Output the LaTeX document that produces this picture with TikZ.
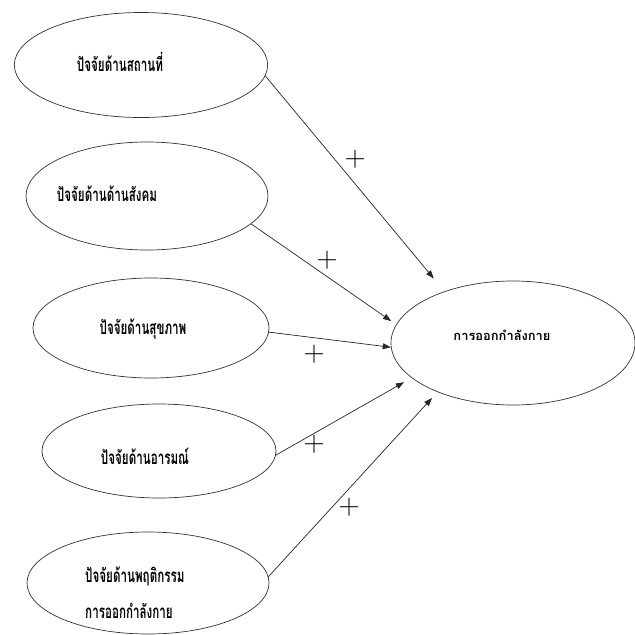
\documentclass[tikz,border=0pt]{standalone}
\usepackage{fontspec}
\newfontfamily\thaifont[Script=Thai]{Loma}
\newfontfamily\thainarrow[Script=Thai, FakeStretch=0.62]{Loma}
\usetikzlibrary{arrows.meta, shapes.geometric}

\begin{document}
\begin{tikzpicture}[x=0.03cm, y=-0.03cm,
		factor/.style={ellipse, draw=black!80, line width=0.6pt, inner sep=0pt},
		factortext/.style={font=\thainarrow\bfseries\fontsize{16}{18}\selectfont, inner sep=0pt},
		goaltext/.style={font=\thaifont\bfseries\fontsize{11}{13}\selectfont, inner sep=0pt},
		plusmark/.style={font=\Huge, inner sep=0pt},
		link/.style={draw=black!85, line width=0.6pt, -{Triangle[length=7pt, width=5pt]}}
	]
		\useasboundingbox (0,0) rectangle (635,635);

		\node[factor, minimum width=7.6cm, minimum height=3.15cm] (e1) at (141,65) {};
		\node[factor, minimum width=7.26cm, minimum height=3.24cm] (e2) at (147,196) {};
		\node[factor, minimum width=7.08cm, minimum height=3.0cm] (e3) at (151,328) {};
		\node[factor, minimum width=7.02cm, minimum height=2.82cm] (e4) at (159,451) {};
		\node[factor, minimum width=7.26cm, minimum height=3.06cm] (e5) at (148,583) {};
		\node[factor, minimum width=7.32cm, minimum height=3.72cm] (tg) at (513,343) {};

		\node[factortext] (t1) at (120,62) {ปัจจัยด้านสถานที่};
		\node[factortext] (t2) at (107,194) {ปัจจัยด้านด้านสังคม};
		\node[factortext] (t3) at (143,329) {ปัจจัยด้านสุขภาพ};
		\node[factortext] (t4) at (145,456) {ปัจจัยด้านอารมณ์};
		\node[factortext, anchor=west] (t5a) at (85,576) {ปัจจัยด้านพฤติกรรม};
		\node[factortext, anchor=west] (t5b) at (85,611) {การออกกำลังกาย};
		\node[goaltext] (tt) at (502,335) {การออกกำลังกาย};

		\draw[link, shorten >=0.5cm] (e1.-5) -- (tg.143.5);
		\draw[link, shorten >=0.18cm] (e2.-15) -- (tg.171.7);
		\draw[link] (e3.-2.5) -- (tg.182);
		\draw[link, shorten >=0.26cm] (e4.-2) -- (tg.199.8);
		\draw[link, shorten >=0.24cm] (e5.3.6) -- (tg.213.4);

		\node[plusmark] (p1) at (355,159) {$+$};
		\node[plusmark] (p2) at (327,260) {$+$};
		\node[plusmark] (p3) at (314,354) {$+$};
		\node[plusmark] (p4) at (314,444) {$+$};
		\node[plusmark] (p5) at (349,507) {$+$};
	\end{tikzpicture}
\end{document}
